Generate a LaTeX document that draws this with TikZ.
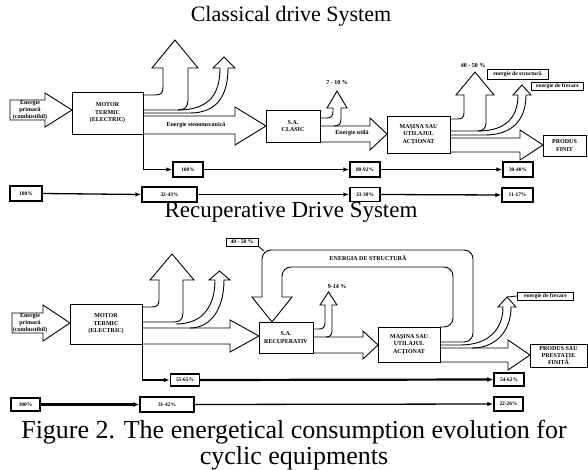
\documentclass[tikz,border=0pt]{standalone}
\usepackage{fontspec}
\setmainfont{Liberation Serif}
\usetikzlibrary{arrows.meta}
\newcommand{\tinyb}{\bfseries\fontsize{6}{7.4}\selectfont}
\newcommand{\pctf}{\bfseries\fontsize{5.4}{6}\selectfont}
\newcommand{\lblf}{\bfseries\fontsize{5.6}{6}\selectfont}
\tikzset{
  flow/.style={draw=black, line width=0.9pt, line join=miter},
  box/.style={draw=black, line width=0.9pt, fill=white, inner sep=0pt, align=center, font=\tinyb},
  pbox/.style={draw=black, line width=1.4pt, fill=white, inner sep=0pt, font=\pctf},
  sbox/.style={draw=black, line width=0.9pt, fill=white, inner sep=0pt, font=\lblf},
  tag/.style={inner sep=0pt, align=center, font=\tinyb},
  link/.style={line width=1.3pt, -{Latex[length=6pt,width=4.5pt]}},
  blink/.style={line width=2.2pt, -{Latex[length=6pt,width=5pt]}},
  ttl/.style={inner sep=0pt, font=\fontsize{22}{24}\selectfont},
  ttlb/.style={inner sep=0pt, font=\fontsize{23}{24}\selectfont},
  captext/.style={inner sep=0pt, align=center, font=\fontsize{26}{25.5}\selectfont},
}
\begin{document}
\begin{tikzpicture}[x=1pt,y=-1pt]
\useasboundingbox (0,0) rectangle (588,470);

% ---------------- titles ----------------
\node[ttl] (t1) at (291,16) {Classical drive System};
\node[ttlb] (t2) at (291,212) {Recuperative Drive System};
\node[captext] (capt) at (294,445) {Figure 2. The energetical consumption evolution for\\cyclic equipments};

% ================= CLASSICAL =================
\draw[flow] (10,100) -- (45,100) -- (45,93) -- (72,110) -- (45,127) -- (45,120) -- (10,120) -- cycle;
\node[tag] (in1) at (30,110) {Energie\\primară\\(combustibil)};
\draw[flow] (143,95) -- (155,95) .. controls (161,95) and (163,93) .. (163,87) -- (163,68) -- (152,68) -- (175,40) -- (198,68) -- (188,68) -- (188,100) .. controls (188,107) and (185,110) .. (178,110) -- (143,110);
\draw[flow] (178,110) .. controls (211,110) and (220,92) .. (220,68) -- (213,68) -- (224,57) -- (235,68) -- (228,68) .. controls (228,98) and (215,113) .. (190,113) -- (143,113);
\draw[flow] (143,116) -- (235,116) -- (235,107) -- (266,126) -- (235,145) -- (235,134) -- (143,134);
\node[tag] (es) at (196,125) {Energie stenomecanică};
\draw[flow] (320,118) -- (327,118) .. controls (331,118) and (333,116) .. (333,112) -- (333,108) -- (327,108) -- (337,91) -- (347,108) -- (341,108) -- (341,119) .. controls (341,124) and (339,126) .. (334,126);
\node[tag] (p710) at (337,83) {7 - 10 \%};
\draw[flow] (320,126) -- (370,126) -- (370,118) -- (387,134) -- (370,150) -- (370,142) -- (320,142);
\node[tag] (eu) at (352,133) {Energie utilă};
\draw[flow] (450,119) -- (458,119) .. controls (462,119) and (464,117) .. (464,113) -- (464,95) -- (456,95) -- (475,72) -- (494,95) -- (486,95) -- (486,123) .. controls (486,128) and (483,131) .. (478,131) -- (450,131);
\node[tag] (p4050a) at (473,66) {40 - 50 \%};
\draw[flow] (478,131) .. controls (508,131) and (518,115) .. (518,95) -- (513,95) -- (522,85) -- (531,95) -- (526,95) .. controls (526,120) and (512,135) .. (485,135) -- (450,135);
\draw[flow] (450,138) -- (520,138) -- (520,130) -- (543,145) -- (520,160) -- (520,152) -- (450,152);

\node[box, minimum width=71pt, minimum height=42pt] (m1) at (107.5,113) {MOTOR\\TERMIC\\(ELECTRIC)};
\node[box, minimum width=54pt, minimum height=32pt] (sa1) at (293,126) {S.A.\\CLASIC};
\node[box, minimum width=63pt, minimum height=37pt] (ma1) at (418.5,134.5) {MAŞINA SAU\\UTILAJUL\\ACŢIONAT};
\node[box, minimum width=43pt, minimum height=21pt] (pf1) at (564.5,145.5) {PRODUS\\FINIT};
\node[sbox, minimum width=61pt, minimum height=10pt] (es1) at (517.5,74) {energie de structură};
\node[sbox, minimum width=52pt, minimum height=8pt] (ef1) at (557.5,86) {energie de frecare};

\node[pbox, minimum width=30pt, minimum height=15pt] (a100) at (188,169.5) {100\%};
\node[pbox, minimum width=30pt, minimum height=15pt] (a8892) at (365,169.5) {88-92\%};
\node[pbox, minimum width=30pt, minimum height=15pt] (a3040) at (518,169.5) {30-40\%};
\node[pbox, minimum width=32pt, minimum height=15pt] (b100) at (26,193.5) {100\%};
\node[pbox, minimum width=55pt, minimum height=15pt] (b3243) at (169.5,194.5) {32-43\%};
\node[pbox, minimum width=30pt, minimum height=14pt] (b3338) at (365,194.5) {33-38\%};
\node[pbox, minimum width=31pt, minimum height=14pt] (b1117) at (517.5,195) {11-17\%};
\draw[link] (m1.south east) |- (a100.west);
\draw[link] (a100.east) -- (a8892.west);
\draw[link] (a8892.east) -- (a3040.west);
\draw[link] (b100.east) -- (b3243.west);
\draw[link] (b3243.east) -- (b3338.west);
\draw[link] (b3338.east) -- (b1117.west);

% ================= RECUPERATIVE =================
\draw[flow] (12,313) -- (43,313) -- (43,305) -- (70,323) -- (43,341) -- (43,333) -- (12,333) -- cycle;
\node[tag] (in2) at (30,323) {Energie\\primară\\(combustibil)};
\draw[flow] (142,307) -- (152,307) .. controls (157,307) and (159,305) .. (159,300) -- (159,280) -- (150,280) -- (172,254) -- (194,280) -- (183,280) -- (183,313) .. controls (183,319) and (180,322) .. (174,322) -- (142,322);
\draw[flow] (176,324) .. controls (206,324) and (215,302) .. (215,280) -- (209,280) -- (219.5,271) -- (230,280) -- (224,280) .. controls (224,310) and (210,328) .. (190,328);
\draw[flow] (142,328) -- (230,328) -- (230,320) -- (259,336) -- (230,352) -- (230,344) -- (142,344);
\draw[flow] (313,329) -- (319,329) .. controls (323,329) and (325,327) .. (325,323) -- (325,305) -- (320,305) -- (328.5,292) -- (337,305) -- (332,305) -- (332,331) .. controls (332,335) and (330,337) .. (326,337);
\node[tag] (p914) at (337,287) {9-14 \%};
\draw[flow] (313,337) -- (363,337) -- (363,331) -- (378,345) -- (363,359) -- (363,353) -- (313,353);
\draw[flow, rounded corners=9pt] (440,342) -- (473,342) -- (473,250) -- (262,250) -- (262,297);
\draw[flow] (262,297) -- (252,297) -- (272,322) -- (292,297) -- (282,297);
\draw[flow, rounded corners=9pt] (282,297) -- (282,267) -- (453,267) -- (453,327) -- (440,327);
\node[tag] (estr) at (368,258) {ENERGIA DE STRUCTURĂ};
\coordinate (loopc) at (264,251);
\draw[flow] (440,345) -- (460,345) .. controls (490,345) and (503,328) .. (503,307) -- (498,307) -- (507,297) -- (516,307) -- (511,307) .. controls (511,332) and (495,348) .. (472,348);
\coordinate (ftip) at (507,297);
\draw[flow] (440,348) -- (508,348) -- (508,340) -- (530,355) -- (508,370) -- (508,362) -- (440,362);

\node[box, minimum width=72pt, minimum height=40pt] (m2) at (106,324) {MOTOR\\TERMIC\\(ELECTRIC)};
\node[box, minimum width=54pt, minimum height=31pt] (sa2) at (286,337.5) {S.A.\\RECUPERATIV};
\node[box, minimum width=62pt, minimum height=35pt] (ma2) at (409,344.5) {MAŞINA SAU\\UTILAJUL\\ACŢIONAT};
\node[box, minimum width=57pt, minimum height=23pt] (pf2) at (558.5,355.5) {PRODUS SAU\\PRESTAŢIE\\FINITĂ};
\node[sbox, minimum width=32pt, minimum height=8pt] (l4050) at (242,242) {40 - 50 \%};
\node[sbox, minimum width=56pt, minimum height=8pt] (ef2) at (545.5,296) {energie de frecare};
\draw[line width=0.8pt] (l4050.south east) -- (loopc);
\draw[line width=0.8pt] (ftip) -- (ef2.west);

\node[pbox, minimum width=29pt, minimum height=12pt] (c5565) at (185,380) {55-65\%};
\node[pbox, minimum width=30pt, minimum height=13pt] (c5462) at (509,379.5) {54-62\%};
\node[pbox, minimum width=29pt, minimum height=13pt] (d100) at (25.5,404.5) {100\%};
\node[pbox, minimum width=54pt, minimum height=15pt] (d3142) at (167,404.5) {31-42\%};
\node[pbox, minimum width=29pt, minimum height=14pt] (d2226) at (508.5,404) {22-26\%};
\draw[link] (m2.south east) |- (c5565.west);
\draw[blink] (c5565.east) -- (c5462.west);
\draw[blink] (d100.east) -- (d3142.west);
\draw[link] (d3142.east) -- (d2226.west);
\end{tikzpicture}
\end{document}
